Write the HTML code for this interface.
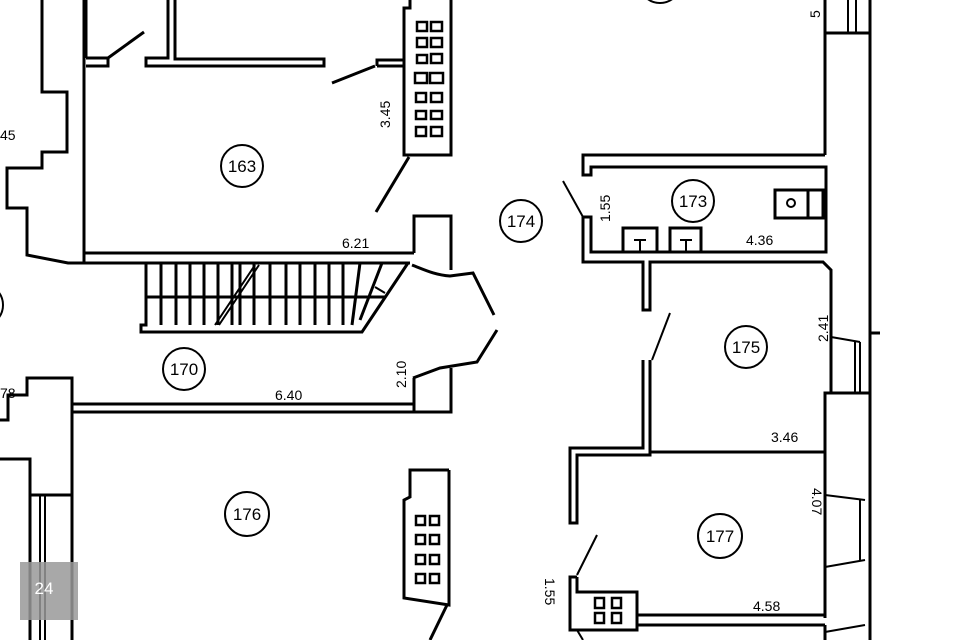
<!DOCTYPE html>
<html><head><meta charset="utf-8"><style>
html,body{margin:0;padding:0;background:#fff;width:960px;height:640px;overflow:hidden}
svg{display:block}
text{font-family:"Liberation Sans",sans-serif;fill:#000}
</style></head><body>
<svg width="960" height="640" viewBox="0 0 960 640" xmlns="http://www.w3.org/2000/svg">
<g fill="none" stroke="#000" stroke-width="3" stroke-linejoin="miter">
<!-- left outer zigzag -->
<polyline points="42,0 42,92 67,92 67,152 42,152 42,168 7,168 7,208 27,208 27,255 68,263 84,263"/>
<line x1="84" y1="0" x2="84" y2="263"/>
<line x1="86" y1="0" x2="86" y2="58"/>
<!-- top walls of 163 -->
<polyline points="86,58 108,58 108,66 86,66"/>
<line x1="108" y1="58" x2="144" y2="32"/>
<polyline points="168,0 168,58 146,58 146,66 324,66 324,59 175,59 175,0"/>
<line x1="332" y1="83" x2="375" y2="66"/>
<polyline points="377,66 377,60 405,60"/>
<line x1="377" y1="66" x2="404" y2="66"/>
<!-- chimney top -->
<polyline points="410,0 410,8 404,8 404,155 451,155 451,0"/>
<line x1="376" y1="212" x2="409" y2="157"/>
<!-- 163 bottom wall -->
<line x1="84" y1="253" x2="414" y2="253"/>
<line x1="70" y1="263" x2="410" y2="263"/>
<polyline points="414,253 414,216 451,216 451,270"/>
<!-- stairs -->
<polyline points="146,263 146,325 141,325 141,332 362,332 408,263"/>
<line x1="146" y1="297" x2="385" y2="297"/>
<line x1="161" y1="263" x2="161" y2="325"/><line x1="176" y1="263" x2="176" y2="325"/>
<line x1="190" y1="263" x2="190" y2="325"/><line x1="204" y1="263" x2="204" y2="325"/>
<line x1="218" y1="263" x2="218" y2="325"/><line x1="232" y1="263" x2="232" y2="325"/>
<line x1="240" y1="263" x2="240" y2="325"/><line x1="254" y1="263" x2="254" y2="325"/>
<line x1="270" y1="263" x2="270" y2="325"/><line x1="286" y1="263" x2="286" y2="325"/>
<line x1="300" y1="263" x2="300" y2="325"/><line x1="315" y1="263" x2="315" y2="325"/>
<line x1="329" y1="263" x2="329" y2="325"/><line x1="343" y1="263" x2="343" y2="325"/>
<line x1="360" y1="263" x2="352" y2="325"/><line x1="382" y1="263" x2="360" y2="320"/>
<line x1="255" y1="265" x2="215" y2="325" stroke-width="2"/>
<line x1="259" y1="265" x2="219" y2="325" stroke-width="2"/>
<line x1="375" y1="287" x2="385" y2="293" stroke-width="2"/>
<!-- opening right of stairs -->
<path d="M412,265 C425,270 435,275 450,276 L473,273 L494,315"/>
<path d="M497,330 L477,362 L440,368 L413,378"/>
<polyline points="414,378 414,412 451,412 451,368"/>
<!-- 170 bottom wall -->
<line x1="72" y1="404" x2="414" y2="404"/>
<line x1="72" y1="412" x2="414" y2="412"/>
<polyline points="0,420 8,420 8,395 27,395 27,378 72,378 72,640"/>
<polyline points="0,459 30,459 30,495 72,495"/>
<line x1="30" y1="495" x2="30" y2="640"/>
<line x1="40" y1="495" x2="40" y2="640" stroke-width="2"/>
<line x1="45" y1="495" x2="45" y2="640" stroke-width="2"/>
<!-- chimney 176 -->
<polyline points="449,470 410,470 410,497 404,500 404,598 449,605 449,470"/>
<line x1="447" y1="605" x2="430" y2="640"/>
<!-- right side -->
<line x1="825" y1="0" x2="825" y2="155"/>
<line x1="870" y1="0" x2="870" y2="640"/>
<line x1="825" y1="33" x2="870" y2="33"/>
<line x1="848" y1="0" x2="848" y2="33" stroke-width="2"/>
<line x1="856" y1="0" x2="856" y2="33" stroke-width="2"/>
<line x1="870" y1="333" x2="880" y2="333"/>
<!-- room 173 -->
<polyline points="825,155 583,155 583,175 591,175 591,167 826,167 826,252 591,252 591,217 583,217 583,262 643,262 643,310 650,310 650,262 823,262 831,270 831,340"/>
<line x1="563" y1="181" x2="583" y2="217" stroke-width="2"/>
<polyline points="623,252 623,228 657,228 657,252"/>
<polyline points="670,252 670,228 701,228 701,252"/>
<path d="M634,240 h12 M640,240 v12 M680,240 h12 M686,240 v12" stroke-width="2"/>
<rect x="775" y="190" width="48" height="28"/>
<line x1="808" y1="190" x2="808" y2="218"/>
<circle cx="791" cy="203" r="4" stroke-width="2"/>
<!-- room 175 -->
<line x1="670" y1="313" x2="652" y2="360" stroke-width="2"/>
<polyline points="643,360 643,448 570,448 570,523 577,523 577,455 650,455 650,360"/>
<line x1="650" y1="452" x2="825" y2="452"/>
<line x1="831" y1="337" x2="860" y2="342" stroke-width="2"/>
<polyline points="831,340 831,393 825,393 825,455"/>
<line x1="825" y1="393" x2="870" y2="393"/>
<line x1="860" y1="342" x2="860" y2="393" stroke-width="2"/>
<line x1="855" y1="342" x2="855" y2="393" stroke-width="2"/>
<!-- room 177 -->
<line x1="825" y1="455" x2="825" y2="618"/>
<line x1="825" y1="495" x2="865" y2="500" stroke-width="2"/>
<line x1="825" y1="567" x2="865" y2="560" stroke-width="2"/>
<line x1="860" y1="500" x2="860" y2="560" stroke-width="2"/>
<line x1="597" y1="535" x2="577" y2="575" stroke-width="2"/>
<polyline points="577,577 570,577 570,630 637,630 637,592 577,592 577,577"/>
<line x1="637" y1="615" x2="825" y2="615"/>
<line x1="637" y1="625" x2="825" y2="625"/>
<line x1="825" y1="625" x2="825" y2="640"/>
<line x1="577" y1="630" x2="583" y2="640" stroke-width="2"/>
<line x1="825" y1="632" x2="865" y2="625" stroke-width="2"/>
<!-- room circles -->
<circle cx="242" cy="166" r="21" stroke-width="2"/>
<circle cx="184" cy="369" r="21" stroke-width="2"/>
<circle cx="521" cy="221" r="21" stroke-width="2"/>
<circle cx="693" cy="201" r="21" stroke-width="2"/>
<circle cx="746" cy="347" r="21" stroke-width="2"/>
<circle cx="247" cy="514" r="22" stroke-width="2"/>
<circle cx="720" cy="536" r="22" stroke-width="2"/>
<circle cx="660" cy="-18" r="21" stroke-width="2"/>
<circle cx="-18" cy="305" r="21" stroke-width="2"/>
</g>
<!-- small squares -->
<g fill="none" stroke="#000" stroke-width="2.5">
<rect x="417" y="22" width="10" height="9"/><rect x="431" y="22" width="11" height="9"/>
<rect x="417" y="38" width="10" height="9"/><rect x="431" y="38" width="11" height="9"/>
<rect x="417" y="55" width="10" height="8"/><rect x="431" y="54" width="11" height="9"/>
<rect x="415" y="73" width="12" height="10"/><rect x="430" y="73" width="13" height="10"/>
<rect x="416" y="93" width="10" height="9"/><rect x="431" y="93" width="11" height="9"/>
<rect x="416" y="111" width="10" height="8"/><rect x="431" y="111" width="11" height="8"/>
<rect x="416" y="127" width="10" height="9"/><rect x="431" y="127" width="11" height="9"/>
<rect x="416" y="516" width="9" height="9"/><rect x="430" y="516" width="9" height="9"/>
<rect x="416" y="535" width="9" height="9"/><rect x="430" y="535" width="9" height="9"/>
<rect x="416" y="555" width="9" height="9"/><rect x="430" y="555" width="9" height="9"/>
<rect x="416" y="574" width="9" height="9"/><rect x="430" y="574" width="9" height="9"/>
<rect x="595" y="598" width="9" height="10"/><rect x="612" y="598" width="9" height="10"/>
<rect x="595" y="613" width="9" height="10"/><rect x="612" y="613" width="9" height="10"/>
</g>
<!-- labels -->
<g font-size="17" text-anchor="middle">
<text x="242" y="172">163</text><text x="184" y="375">170</text>
<text x="521" y="227">174</text><text x="693" y="207">173</text>
<text x="746" y="353">175</text><text x="247" y="520">176</text>
<text x="720" y="542">177</text>
</g>
<g font-size="14">
<text x="342" y="248">6.21</text>
<text x="275" y="400">6.40</text>
<text x="746" y="245">4.36</text>
<text x="771" y="442">3.46</text>
<text x="753" y="611">4.58</text>
<text x="0" y="140">45</text>
<text x="0" y="398">78</text>
<text transform="translate(390,128) rotate(-90)">3.45</text>
<text transform="translate(610,222) rotate(-90)">1.55</text>
<text transform="translate(828,342) rotate(-90)">2.41</text>
<text transform="translate(812,488) rotate(90)">4.07</text>
<text transform="translate(545,578) rotate(90)">1.55</text>
<text transform="translate(406,388) rotate(-90)">2.10</text>
<text transform="translate(820,18) rotate(-90)">5</text>
</g>
<rect x="20" y="562" width="58" height="58" fill="#999" opacity="0.85"/>
<text x="44" y="594" font-size="17" fill="#fff" text-anchor="middle" style="fill:#fff">24</text>
</svg>
</body></html>
